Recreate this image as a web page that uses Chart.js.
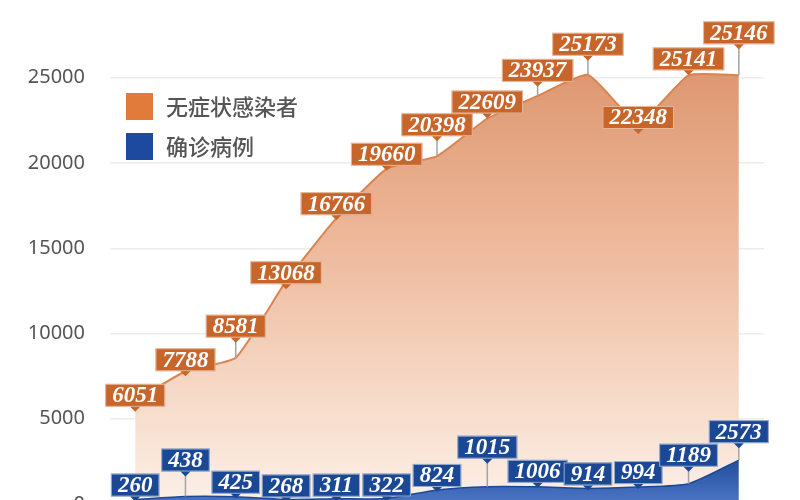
<!DOCTYPE html>
<html>
<head>
<meta charset="utf-8">
<script src="https://cdn.jsdelivr.net/npm/chart.js@4/dist/chart.umd.min.js"></script>
<style>
  body { margin: 0; background: #fff; }
  #wrap { width: 800px; height: 500px; }
</style>
</head>
<body>
<div id="wrap"><canvas id="chart"></canvas></div>
<script>
// days (x categories, not printed on the chart)
var days = ['4月1日', '4月2日', '4月3日', '4月4日', '4月5日', '4月6日', '4月7日',
            '4月8日', '4月9日', '4月10日', '4月11日', '4月12日', '4月13日'];
// series
var asymptomatic = [6051, 7788, 8581, 13068, 16766, 19660, 20398, 22609, 23937, 25173, 22348, 25141, 25146];
var confirmed = [260, 438, 425, 268, 311, 322, 824, 1015, 1006, 914, 994, 1189, 2573];
var seriesNames = ['无症状感染者', '确诊病例'];
// y axis tick values
var yTicks = [0, 5000, 10000, 15000, 20000, 25000];

// how high each callout box sits above its point (px), so boxes don't collide
var orangeLift = [-6, 0, 20, -3, 3, 3, 20, 5, 14, 19, -6, 5, 31];
var blueLift = [3, 25, 3, 2, 2, 2, 3, 28, 4, 3, 3, 17, 17];

var orangeBox = '#c8652a';
var blueBox = '#1b4894';

// value boxes with a little pin down to the point
var calloutPlugin = {
    id: 'callouts',
    afterDatasetsDraw: function(chart) {
        var ctx = chart.ctx;
        ctx.save();
        ctx.font = 'italic bold 23px "Liberation Serif", serif';
        ctx.textAlign = 'center';
        ctx.textBaseline = 'middle';
        chart.data.datasets.forEach(function(ds, di) {
            var meta = chart.getDatasetMeta(di);
            var lifts = ds.lifts;
            meta.data.forEach(function(pt, i) {
                var txt = String(ds.data[i]);
                var w = ctx.measureText(txt).width + 14;
                var h = 23;
                var bottom = pt.y - lifts[i];
                var top = bottom - h;
                // pin
                if (lifts[i] > 5) {
                    ctx.strokeStyle = '#a3a3a3';
                    ctx.lineWidth = 1.5;
                    ctx.beginPath();
                    ctx.moveTo(pt.x, bottom);
                    ctx.lineTo(pt.x, pt.y);
                    ctx.stroke();
                }
                // box
                ctx.fillStyle = ds.boxColor;
                ctx.fillRect(pt.x - w / 2, top, w, h);
                ctx.strokeStyle = 'rgba(255,255,255,0.55)';
                ctx.lineWidth = 1;
                ctx.strokeRect(pt.x - w / 2 + 0.5, top + 0.5, w - 1, h - 1);
                // notch
                ctx.beginPath();
                ctx.moveTo(pt.x - 5, bottom);
                ctx.lineTo(pt.x + 5, bottom);
                ctx.lineTo(pt.x, bottom + 5);
                ctx.closePath();
                ctx.fill();
                ctx.fillStyle = '#fff';
                ctx.fillText(txt, pt.x, top + h / 2 + 1);
            });
        });
        ctx.restore();
    }
};

// legend sitting inside the plot, top left
var legendPlugin = {
    id: 'innerLegend',
    afterDraw: function(chart) {
        var ctx = chart.ctx;
        var area = chart.chartArea;
        var colors = ['#e07b3c', '#1d4a9e'];
        ctx.save();
        ctx.font = '500 22px "Noto Sans CJK SC", sans-serif';
        ctx.textBaseline = 'middle';
        ctx.textAlign = 'left';
        seriesNames.forEach(function(name, i) {
            var y = area.top + 93 + i * 40;
            ctx.fillStyle = colors[i];
            ctx.fillRect(area.left + 16, y, 27, 27);
            ctx.fillStyle = '#555';
            ctx.fillText(name, area.left + 56, y + 14);
        });
        ctx.restore();
    }
};

function orangeFill(context) {
    var area = context.chart.chartArea;
    if (!area) return '#eebb9c';
    var g = context.chart.ctx.createLinearGradient(0, area.top, 0, area.bottom);
    g.addColorStop(0, '#d68a60');
    g.addColorStop(0.45, '#ecb596');
    g.addColorStop(0.82, '#f7ddcc');
    g.addColorStop(1, '#fcefe7');
    return g;
}

function blueFill(context) {
    var area = context.chart.chartArea;
    if (!area) return '#22509f';
    var g = context.chart.ctx.createLinearGradient(0, area.bottom - 45, 0, area.bottom);
    g.addColorStop(0, '#1c4898');
    g.addColorStop(1, '#4a74c2');
    return g;
}

var ctx = document.getElementById('chart').getContext('2d');
var chart = new Chart(ctx, {
    type: 'line',
    data: {
        labels: days,
        datasets: [
            {
                label: seriesNames[0],
                data: asymptomatic,
                borderColor: '#d9844e',
                borderWidth: 2,
                backgroundColor: orangeFill,
                fill: 'origin',
                tension: 0.15,
                pointRadius: 0,
                order: 2,
                lifts: orangeLift,
                boxColor: orangeBox
            },
            {
                label: seriesNames[1],
                data: confirmed,
                borderColor: '#1c4898',
                borderWidth: 1.5,
                backgroundColor: blueFill,
                fill: 'origin',
                tension: 0.2,
                pointRadius: 0,
                order: 1,
                lifts: blueLift,
                boxColor: blueBox
            }
        ]
    },
    options: {
        responsive: true,
        maintainAspectRatio: false,
        animation: false,
        layout: { autoPadding: false, padding: { left: 0, right: 36, top: 0, bottom: 0 } },
        plugins: {
            legend: { display: false },
            tooltip: { enabled: false }
        },
        scales: {
            x: {
                type: 'category',
                offset: true,
                display: false
            },
            y: {
                min: 235,
                max: 29560,
                afterBuildTicks: function(axis) {
                    axis.ticks = yTicks.map(function(v) { return { value: v }; });
                },
                afterFit: function(axis) {
                    axis.width = 110;
                    axis.paddingTop = 0;
                    axis.paddingBottom = 0;
                },
                border: { display: false },
                grid: { color: '#ececec', lineWidth: 1.5, drawTicks: false },
                ticks: {
                    padding: 25,
                    color: '#555',
                    font: { family: '"Noto Sans", sans-serif', size: 20 },
                    callback: function(v) { return String(v); }
                }
            }
        }
    },
    plugins: [calloutPlugin, legendPlugin]
});
</script>
</body>
</html>
